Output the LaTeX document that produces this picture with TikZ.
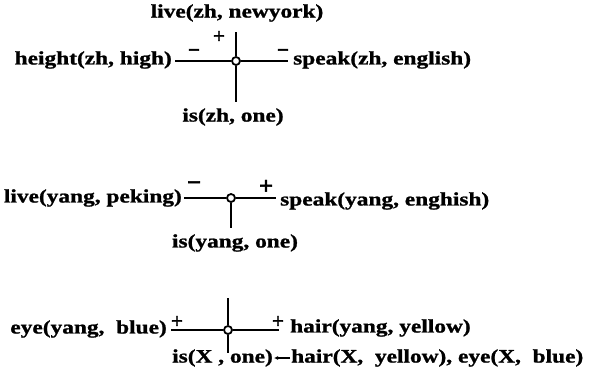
\documentclass[tikz,border=0pt]{standalone}
\usepackage{fontspec}
\newfontfamily\lbl{Liberation Serif}[FakeStretch=1.23, FakeBold=1.2]
\newfontfamily\sgn{Liberation Serif}[FakeBold=1.5]
\usetikzlibrary{arrows.meta}
\begin{document}
\begin{tikzpicture}[x=1pt,y=-1pt,
  lit/.style={font=\lbl\bfseries\fontsize{19}{19}\selectfont, inner sep=1pt},
  hub/.style={circle, draw, fill=white, line width=1.8pt, minimum size=8pt, inner sep=0pt},
  edge/.style={line width=1.8pt},
  sign/.style={inner sep=0pt, font=\sgn\bfseries\fontsize{21}{21}\selectfont},
  bigsign/.style={inner sep=0pt, font=\sgn\bfseries\fontsize{25}{25}\selectfont}]
\useasboundingbox (0,0) rectangle (592,380);

% --- first network: zh ---
\node[hub] (c1) at (236,61) {};
\node[lit] (t1) at (237,13) {live(zh, newyork)};
\node[lit, anchor=east] (l1) at (173,60) {height(zh, high)};
\node[lit, anchor=west] (r1) at (292,60) {speak(zh, english)};
\node[lit] (b1) at (233,117) {is(zh, one)};
\coordinate (c1n) at (236,32);
\coordinate (c1s) at (236,102);
\coordinate (c1w) at (175,61);
\coordinate (c1e) at (288,61);
\draw[edge] (c1) -- (c1n);
\draw[edge] (c1) -- (c1s);
\draw[edge] (c1) -- (c1w);
\draw[edge] (c1) -- (c1e);
\node[sign] (s1n) at (219,37) {+};
\node[sign] (s1w) at (194,53) {−};
\node[sign] (s1e) at (283,53) {−};

% --- second network: yang ---
\node[hub] (c2) at (231,198) {};
\node[lit, anchor=east] (l2) at (183,198) {live(yang, peking)};
\node[lit, anchor=west] (r2) at (279,201) {speak(yang, enghish)};
\node[lit] (b2) at (235,243) {is(yang,\ one)};
\coordinate (c2w) at (184,198);
\coordinate (c2e) at (276,198);
\coordinate (c2s) at (231,228);
\draw[edge] (c2) -- (c2w);
\draw[edge] (c2) -- (c2e);
\draw[edge] (c2) -- (c2s);
\node[bigsign] (s2w) at (194,186) {−};
\node[bigsign] (s2e) at (266,187) {+};

% --- third network: learned rule ---
\node[hub] (c3) at (228,330) {};
\node[lit, anchor=east] (l3) at (168,329) {eye(yang,\ \ blue)};
\node[lit, anchor=west] (r3) at (289,328) {hair(yang,\ yellow)};
\coordinate (c3w) at (171,330);
\coordinate (c3e) at (279,330);
\coordinate (c3n) at (228,298);
\coordinate (c3s) at (228,353);
\draw[edge] (c3) -- (c3w);
\draw[edge] (c3) -- (c3e);
\draw[edge] (c3) -- (c3n);
\draw[edge] (c3) -- (c3s);
\node[sign] (s3w) at (177,322) {+};
\node[sign] (s3e) at (278,322) {+};

\node[lit, anchor=west] (head) at (171,358) {is(X , one)};
\node[lit, anchor=west] (body) at (290,358) {hair(X,\ \ yellow), eye(X,\ \ blue)};
\draw[line width=1.4pt, -{Latex[length=4pt,width=4pt]}] (body.west) -- (head.east);
\end{tikzpicture}
\end{document}
